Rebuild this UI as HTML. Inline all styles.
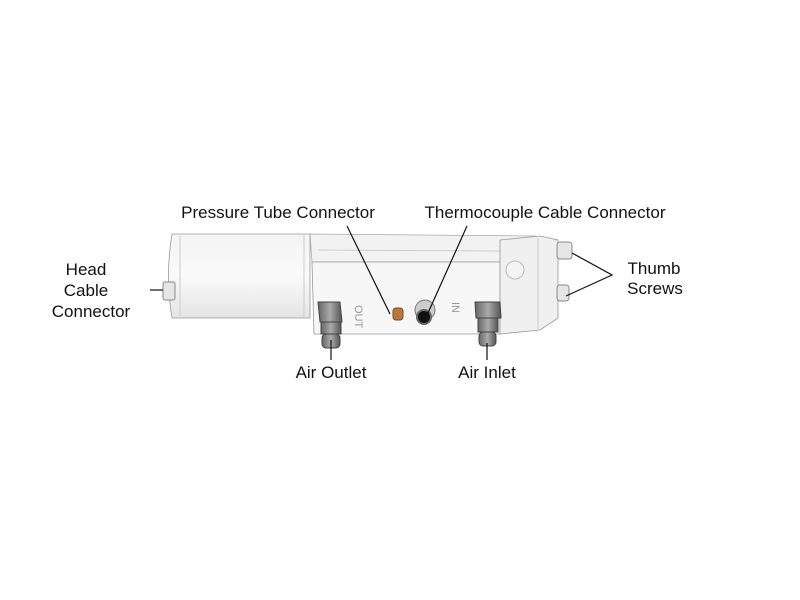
<!DOCTYPE html>
<html><head><style>body{margin:0;background:#fff}svg{display:block}text{font-family:"Liberation Sans",sans-serif;font-size:17px;fill:#111}</style></head><body>
<svg width="800" height="600" viewBox="0 0 800 600">
<defs>
<linearGradient id="g1" x1="0" y1="0" x2="0" y2="1"><stop offset="0" stop-color="#f4f4f4"/><stop offset="0.5" stop-color="#fafafa"/><stop offset="1" stop-color="#e4e4e4"/></linearGradient>
<linearGradient id="g2" x1="0" y1="0" x2="1" y2="0"><stop offset="0" stop-color="#666"/><stop offset="0.5" stop-color="#aaa"/><stop offset="1" stop-color="#555"/></linearGradient>
</defs>
<path d="M172 234 L310 234 L310 318 L172 318 Q165 276 172 234Z" fill="url(#g1)" stroke="#999" stroke-width="0.8"/>
<line x1="180" y1="236" x2="180" y2="316" stroke="#ccc"/>
<line x1="304" y1="234" x2="304" y2="318" stroke="#ccc"/>
<path d="M310 234 L535 236 L540 262 L312 262Z" fill="#f2f2f2" stroke="#aaa" stroke-width="0.8"/>
<line x1="318" y1="250" x2="500" y2="251" stroke="#ccc"/>
<path d="M312 262 L500 262 L500 334 L314 334Z" fill="#f7f7f7" stroke="#999" stroke-width="0.8"/>
<path d="M500 240 L540 236 L558 240 L558 318 L540 330 L500 334Z" fill="#f0f0f0" stroke="#999" stroke-width="0.8"/>
<line x1="538" y1="238" x2="538" y2="330" stroke="#ccc"/>
<circle cx="515" cy="270" r="9" fill="#f4f4f4" stroke="#bbb"/>
<rect x="557" y="242" width="15" height="17" rx="3" fill="#e6e6e6" stroke="#888"/>
<rect x="557" y="285" width="12" height="16" rx="3" fill="#e6e6e6" stroke="#888"/>
<rect x="163" y="282" width="12" height="18" rx="2" fill="#e6e6e6" stroke="#888"/>
<text x="0" y="0" transform="translate(355,305) rotate(90)" style="font-size:11px;fill:#999">OUT</text>
<text x="0" y="0" transform="translate(452,302) rotate(90)" style="font-size:11px;fill:#999">IN</text>
<g>
<path d="M318 302 L340 302 L342 322 L320 322Z" fill="url(#g2)" stroke="#444"/>
<rect x="321" y="322" width="20" height="12" fill="url(#g2)" stroke="#444"/>
<rect x="322" y="334" width="18" height="14" rx="4" fill="url(#g2)" stroke="#444"/>
<path d="M475 302 L500 302 L501 318 L476 318Z" fill="url(#g2)" stroke="#444"/>
<rect x="478" y="318" width="20" height="14" fill="url(#g2)" stroke="#444"/>
<rect x="479" y="332" width="17" height="14" rx="4" fill="url(#g2)" stroke="#444"/>
</g>
<rect x="393" y="308" width="10" height="12" rx="3" fill="#b87a3c" stroke="#7a4a20"/>
<circle cx="425" cy="310" r="10" fill="#ccc" stroke="#777"/>
<circle cx="424" cy="317" r="7" fill="#111" stroke="#666" stroke-width="2"/>
<g stroke="#111" stroke-width="1.2" fill="none">
<line x1="347" y1="226" x2="390" y2="314"/>
<line x1="467" y1="226" x2="428" y2="313"/>
<line x1="150" y1="290" x2="163" y2="290"/>
<polyline points="572,253 612,275 566,296"/>
<line x1="331" y1="340" x2="331" y2="360"/>
<line x1="487" y1="343" x2="487" y2="360"/>
</g>
<text x="278" y="218" text-anchor="middle">Pressure Tube Connector</text>
<text x="545" y="218" text-anchor="middle">Thermocouple Cable Connector</text>
<text x="86" y="275" text-anchor="middle">Head</text>
<text x="86" y="296" text-anchor="middle">Cable</text>
<text x="91" y="317" text-anchor="middle">Connector</text>
<text x="654" y="274" text-anchor="middle">Thumb</text>
<text x="655" y="294" text-anchor="middle">Screws</text>
<text x="331" y="378" text-anchor="middle">Air Outlet</text>
<text x="487" y="378" text-anchor="middle">Air Inlet</text>
</svg>
</body></html>
